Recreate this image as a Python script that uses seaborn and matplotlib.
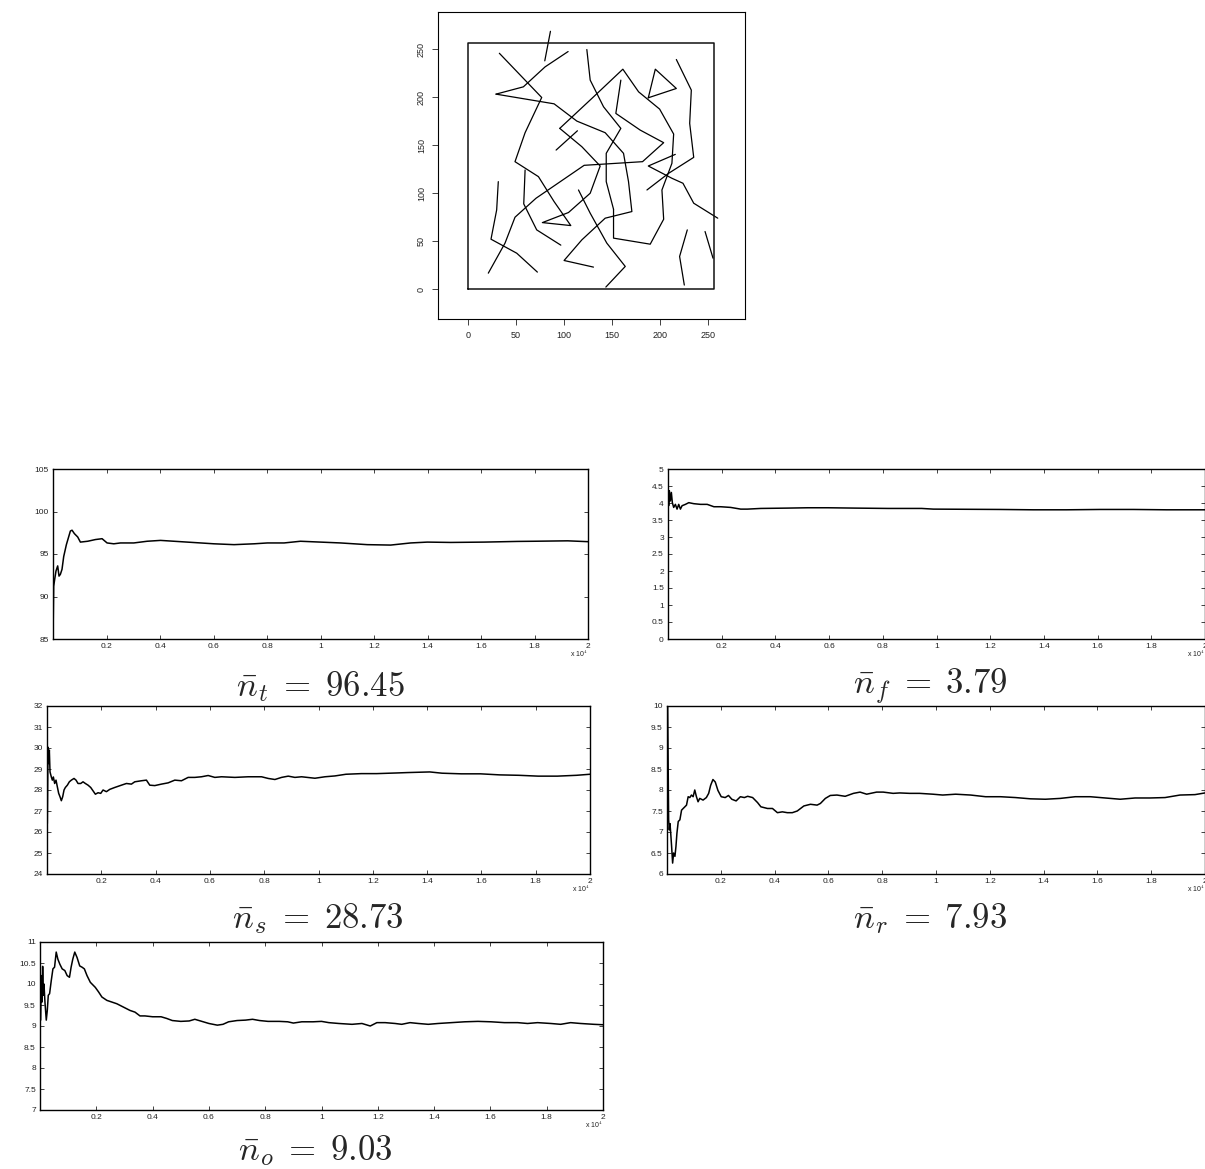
import numpy as np
import pandas as pd
import matplotlib
matplotlib.use("Agg")
import matplotlib.pyplot as plt
import seaborn as sns

# ---------------- data: fibre network (top panel) ----------------
box_x = [0, 256, 256, 0, 0]
box_y = [0, 0, 256, 256, 0]

fibers = {
    "A": ([80.0, 85.9], [237.9, 268.7]),
    "B": ([29.2, 57.7, 80.3, 104.3], [203.2, 210.8, 231.6, 247.6]),
    "C1": ([32.7, 76.8, 59.5, 49.0, 73.4, 89.7, 107.1, 77.5, 104.7, 127.3, 137.7, 118.6, 95.6],
           [245.8, 199.7, 163.0, 132.8, 117.2, 91.2, 66.2, 69.3, 79.8, 99.9, 128.3, 148.4, 167.5]),
    "C2": ([95.6, 129.0, 161.3, 177.7, 199.6, 214.2, 212.4, 202.0, 203.8, 189.8, 151.6, 151.6],
           [167.5, 198.7, 229.2, 205.6, 187.6, 161.6, 131.1, 103.3, 72.8, 46.8, 53.1, 83.2]),
    "C3": ([151.6, 144.0, 144.0, 159.2, 141.2, 127.3, 123.8],
           [83.2, 112.0, 141.5, 167.5, 190.0, 217.8, 249.7]),
    "D": ([29.2, 89.7, 113.4, 142.9, 162.0, 167.2, 170.7, 142.9, 118.6, 100.1, 130.7],
          [203.2, 193.1, 175.1, 163.0, 141.5, 112.0, 80.8, 73.9, 51.3, 29.8, 22.9]),
    "F": ([159.2, 154.0, 179.4, 203.8, 181.8, 121.0, 70.9, 49.0, 38.6, 21.2],
          [217.8, 183.1, 165.7, 152.6, 132.8, 129.0, 94.7, 74.9, 47.9, 16.6]),
    "G": ([187.8, 195.1, 217.0, 187.8], [199.4, 229.2, 209.1, 199.4]),
    "H": ([217.0, 232.6, 230.9, 235.1, 209.0, 186.4], [239.3, 207.4, 172.7, 137.3, 120.7, 103.3]),
    "I": ([215.9, 187.8, 212.4, 223.9, 235.1, 260.1], [140.4, 128.3, 115.5, 110.3, 89.5, 73.9]),
    "J": ([91.8, 114.0], [144.9, 165.0]),
    "K": ([31.6, 29.9, 24.0, 50.8, 72.3], [112.0, 82.5, 52.0, 37.4, 17.7]),
    "L": ([59.5, 58.1, 71.6, 96.7], [124.1, 88.8, 61.7, 45.8]),
    "M": ([115.1, 127.3, 144.6, 163.8, 143.6], [103.3, 79.1, 47.9, 23.6, 2.1]),
    "N": ([228.4, 220.4, 225.3], [61.7, 34.0, 4.2]),
    "O": ([246.9, 255.2], [60.0, 32.2]),
}
net_ticks = [0, 50, 100, 150, 200, 250]

# ---------------- data: running averages ----------------
nt_x = [0, 25, 62, 112, 175, 225, 275, 337, 400, 500, 649, 712, 799, 924, 1024, 1298, 1586, 1835,
        2022, 2272, 2522, 3021, 3521, 4020, 4519, 5019, 5518, 6017, 6767, 7516, 8015, 8639, 9251,
        10000, 10749, 11748, 12622, 13371, 13995, 14869, 16117, 17366, 17990, 19239, 20000]
nt_y = [85, 91.2, 92.0, 93.0, 93.6, 92.4, 92.6, 93.2, 94.7, 96.1, 97.7, 97.8, 97.4, 97.0, 96.4, 96.5,
        96.7, 96.8, 96.3, 96.2, 96.3, 96.3, 96.5, 96.6, 96.5, 96.4, 96.3, 96.2, 96.1, 96.2, 96.3,
        96.3, 96.5, 96.4, 96.3, 96.1, 96.05, 96.3, 96.4, 96.36, 96.4, 96.48, 96.5, 96.55, 96.45]

nf_x = [0, 25, 50, 87, 125, 162, 212, 275, 337, 399, 462, 524, 649, 774, 961, 1211, 1460, 1710,
        1959, 2334, 2708, 2958, 3457, 4455, 5204, 5953, 6951, 8199, 9447, 9882, 12365, 13600,
        14842, 16089, 17330, 18573, 20000]
nf_y = [4.41, 3.92, 4.36, 4.06, 4.31, 4.01, 3.87, 3.96, 3.82, 3.96, 3.82, 3.92, 3.96, 4.01, 3.98,
        3.96, 3.96, 3.89, 3.89, 3.87, 3.82, 3.82, 3.84, 3.85, 3.86, 3.86, 3.85, 3.84, 3.84, 3.82,
        3.81, 3.80, 3.80, 3.81, 3.81, 3.80, 3.80]

ns_x = [12, 37, 61, 86, 111, 160, 197, 234, 283, 332, 381, 430, 479, 528, 578, 627, 676, 750, 823,
        897, 995, 1069, 1143, 1241, 1327, 1413, 1512, 1610, 1696, 1782, 1880, 1979, 2065, 2188,
        2311, 2495, 2741, 2925, 3109, 3232, 3478, 3662, 3785, 3970, 4215, 4461, 4707, 4953, 5199,
        5445, 5690, 5936, 6182, 6428, 6919, 7411, 7902, 8148, 8394, 8640, 8886, 9131, 9377, 9869,
        10238, 10606, 11012, 11578, 12144, 12852, 13277, 14100, 14550, 15258, 15966, 16673, 17381,
        18089, 18796, 19504, 20000]
ns_y = [26.4, 30.04, 29.26, 29.9, 28.86, 28.62, 28.47, 28.62, 28.31, 28.47, 28.15, 27.84, 27.68,
        27.49, 27.68, 28.0, 28.12, 28.23, 28.39, 28.47, 28.55, 28.47, 28.31, 28.31, 28.39, 28.31,
        28.23, 28.12, 27.96, 27.8, 27.87, 27.84, 28.0, 27.92, 28.03, 28.12, 28.23, 28.31, 28.28,
        28.39, 28.44, 28.47, 28.23, 28.21, 28.28, 28.34, 28.47, 28.44, 28.6, 28.6, 28.63, 28.69,
        28.6, 28.63, 28.6, 28.63, 28.63, 28.55, 28.5, 28.6, 28.66, 28.6, 28.63, 28.56, 28.63,
        28.67, 28.75, 28.78, 28.78, 28.81, 28.83, 28.86, 28.8, 28.77, 28.77, 28.72, 28.7, 28.66,
        28.66, 28.7, 28.75]

nr_x = [0, 25, 49, 61, 86, 111, 135, 172, 209, 246, 295, 332, 369, 418, 479, 541, 602, 664, 725,
        787, 848, 909, 971, 1032, 1094, 1155, 1217, 1340, 1463, 1549, 1622, 1708, 1794, 1893, 2016,
        2163, 2286, 2409, 2569, 2728, 2876, 2999, 3183, 3367, 3490, 3736, 3921, 4105, 4289, 4474,
        4658, 4842, 5088, 5334, 5580, 5703, 5887, 6071, 6317, 6624, 6932, 7177, 7423, 7792, 8038,
        8406, 8652, 9021, 9390, 9881, 10250, 10731, 11287, 11843, 12399, 12955, 13511, 14067,
        14623, 15179, 15735, 16291, 16847, 17403, 17959, 18515, 19071, 19627, 20000]
nr_y = [10.0, 10.0, 8.15, 7.29, 7.05, 7.2, 7.0, 6.65, 6.26, 6.5, 6.42, 6.65, 6.97, 7.25, 7.29, 7.52,
        7.56, 7.6, 7.64, 7.84, 7.82, 7.88, 7.84, 8.0, 7.84, 7.72, 7.8, 7.76, 7.82, 7.92, 8.11, 8.25,
        8.19, 7.99, 7.84, 7.82, 7.87, 7.78, 7.74, 7.84, 7.82, 7.85, 7.82, 7.7, 7.6, 7.56, 7.56, 7.46,
        7.48, 7.46, 7.46, 7.5, 7.62, 7.66, 7.64, 7.68, 7.8, 7.87, 7.88, 7.85, 7.92, 7.95, 7.9, 7.95,
        7.95, 7.92, 7.93, 7.92, 7.92, 7.9, 7.88, 7.9, 7.88, 7.84, 7.84, 7.82, 7.79, 7.78, 7.8, 7.84,
        7.84, 7.81, 7.78, 7.81, 7.81, 7.82, 7.88, 7.89, 7.93]

no_x = [0, 24, 47, 71, 94, 118, 141, 176, 223, 259, 294, 341, 400, 459, 517, 576, 635, 706, 788,
        882, 964, 1047, 1105, 1164, 1235, 1317, 1411, 1494, 1576, 1670, 1788, 1964, 2082, 2199,
        2376, 2552, 2729, 2964, 3199, 3375, 3552, 3728, 4000, 4300, 4500, 4700, 5000, 5300, 5500,
        5700, 6000, 6300, 6500, 6700, 7000, 7300, 7550, 7800, 8100, 8500, 8800, 9000, 9300, 9700,
        10000, 10261, 10614, 11084, 11437, 11732, 11967, 12262, 12615, 12849, 13144, 13438, 13791,
        14144, 14613, 15087, 15556, 16025, 16498, 16968, 17320, 17674, 18143, 18496, 18849, 19202,
        19675, 20000]
no_y = [9.14, 9.14, 10.2, 9.57, 10.42, 9.73, 10.0, 9.57, 9.14, 9.37, 9.73, 9.77, 10.08, 10.36, 10.4,
        10.76, 10.59, 10.47, 10.36, 10.32, 10.2, 10.16, 10.4, 10.59, 10.76, 10.63, 10.43, 10.4,
        10.36, 10.2, 10.04, 9.92, 9.81, 9.69, 9.61, 9.57, 9.53, 9.45, 9.37, 9.33, 9.24, 9.24, 9.22,
        9.22, 9.18, 9.13, 9.11, 9.12, 9.16, 9.12, 9.06, 9.02, 9.04, 9.1, 9.13, 9.14, 9.16, 9.13,
        9.11, 9.11, 9.1, 9.07, 9.1, 9.1, 9.11, 9.08, 9.06, 9.04, 9.06, 9.0, 9.08, 9.08, 9.06, 9.04,
        9.08, 9.06, 9.04, 9.06, 9.08, 9.1, 9.11, 9.1, 9.08, 9.08, 9.06, 9.08, 9.06, 9.04, 9.08,
        9.06, 9.04, 9.03]

x_ticks = [2000, 4000, 6000, 8000, 10000, 12000, 14000, 16000, 18000, 20000]
x_ticklabels = ["0.2", "0.4", "0.6", "0.8", "1", "1.2", "1.4", "1.6", "1.8", "2"]

panels = [
    # (x, y, ylim, yticks, yticklabels, caption)
    (nt_x, nt_y, (85, 105), [85, 90, 95, 100, 105], ["85", "90", "95", "100", "105"],
     r"$\bar{n}_t\;=\;96.45$"),
    (nf_x, nf_y, (0, 5), [0, .5, 1, 1.5, 2, 2.5, 3, 3.5, 4, 4.5, 5],
     ["0", "0.5", "1", "1.5", "2", "2.5", "3", "3.5", "4", "4.5", "5"], r"$\bar{n}_f\;=\;3.79$"),
    (ns_x, ns_y, (24, 32), list(range(24, 33)), [str(v) for v in range(24, 33)],
     r"$\bar{n}_s\;=\;28.73$"),
    (nr_x, nr_y, (6, 10), [6, 6.5, 7, 7.5, 8, 8.5, 9, 9.5, 10],
     ["6", "6.5", "7", "7.5", "8", "8.5", "9", "9.5", "10"], r"$\bar{n}_r\;=\;7.93$"),
    (no_x, no_y, (7, 11), [7, 7.5, 8, 8.5, 9, 9.5, 10, 10.5, 11],
     ["7", "7.5", "8", "8.5", "9", "9.5", "10", "10.5", "11"], r"$\bar{n}_o\;=\;9.03$"),
]

# ---------------- figure ----------------
sns.set_style("white")
plt.rcParams["font.family"] = ["Liberation Sans", "DejaVu Sans"]
plt.rcParams["mathtext.fontset"] = "cm"

W, H = 1205, 1169
fig = plt.figure(figsize=(W / 100, H / 100), dpi=100)
fig.patch.set_facecolor("white")


def px_axes(left, top, right, bottom):
    return fig.add_axes([left / W, 1 - bottom / H, (right - left) / W, (bottom - top) / H])


# top network plot
ax0 = px_axes(437.7, 12.3, 745, 319.3)
rows = []
for fid, (xs, ys) in fibers.items():
    for i, (xv, yv) in enumerate(zip(xs, ys)):
        rows.append({"fiber": fid, "order": i, "x": xv, "y": yv})
fdf = pd.DataFrame(rows)
sns.lineplot(data=fdf, x="x", y="y", units="fiber", estimator=None, sort=False,
             color="black", linewidth=0.9, ax=ax0, legend=False)
bdf = pd.DataFrame({"x": box_x, "y": box_y})
sns.lineplot(data=bdf, x="x", y="y", estimator=None, sort=False, color="#111111",
             linewidth=1.1, ax=ax0, legend=False)
ax0.set_xlim(-31.5, 288.5)
ax0.set_ylim(-31.5, 288.5)
ax0.set_xticks(net_ticks)
ax0.set_yticks(net_ticks)
ax0.set_xticklabels([str(t) for t in net_ticks])
ax0.set_yticklabels([str(t) for t in net_ticks], rotation=90, va="center")
ax0.tick_params(direction="out", length=4.5, width=0.6, labelsize=6.5, pad=4,
                colors="#222222", bottom=True, left=True)
ax0.set_xlabel("")
ax0.set_ylabel("")
for s in ax0.spines.values():
    s.set_visible(True)
    s.set_linewidth(0.8)
    s.set_color("black")

# running-average panels (left, top, right, bottom) in pixels
boxes = [
    (53, 469, 588, 639),
    (668, 469, 1205, 639),
    (47, 706, 590, 874),
    (667, 706, 1205, 874),
    (40, 942, 603, 1110),
]
cap_pos = [(320, 687), (930, 687), (318, 919), (930, 919), (315, 1151)]

for (xs, ys, ylim, yt, ytl, cap), bx, cp in zip(panels, boxes, cap_pos):
    ax = px_axes(*bx)
    df = pd.DataFrame({"iter": xs, "val": ys})
    sns.lineplot(data=df, x="iter", y="val", estimator=None, sort=False, color="black",
                 linewidth=1.1, ax=ax, legend=False)
    ax.set_xlim(0, 20000)
    ax.set_ylim(*ylim)
    ax.set_xticks(x_ticks)
    ax.set_xticklabels(x_ticklabels)
    ax.set_yticks(yt)
    ax.set_yticklabels(ytl)
    ax.set_xlabel("")
    ax.set_ylabel("")
    ax.tick_params(direction="in", length=3, width=0.6, labelsize=6, pad=3,
                   colors="#222222", top=True, right=True, bottom=True, left=True,
                   labeltop=False, labelright=False)
    for s in ax.spines.values():
        s.set_visible(True)
        s.set_linewidth(1.0)
        s.set_color("black")
    ax.text(1.0, -0.06, r"x 10$^4$", transform=ax.transAxes, ha="right", va="top",
            fontsize=5, color="#222222")
    fig.text(cp[0] / W, 1 - cp[1] / H, cap, ha="center", va="center", fontsize=25)

fig.savefig("out.png", dpi=100, facecolor="white")
